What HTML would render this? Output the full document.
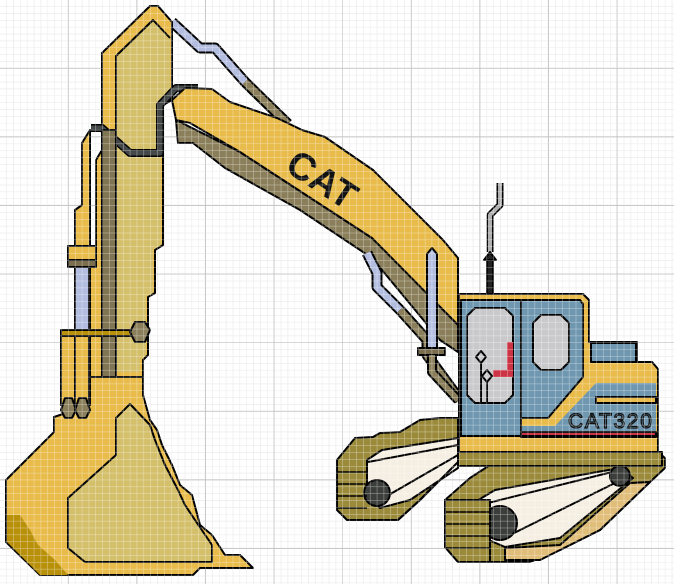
<!DOCTYPE html>
<html><head><meta charset="utf-8"><style>html,body{margin:0;padding:0;background:#fff}svg{display:block}</style></head>
<body>
<svg width="674" height="584" viewBox="0 0 674 584" xmlns="http://www.w3.org/2000/svg">
<defs>
<pattern id="fine" width="6.86" height="6.86" patternUnits="userSpaceOnUse">
<path d="M6.86 0V6.86M0 6.86H6.86" stroke="#d6d6d6" stroke-width="1" fill="none"/></pattern>
<pattern id="major" width="68.6" height="68.6" patternUnits="userSpaceOnUse">
<path d="M68.6 0V68.6M0 68.6H68.6" stroke="#8a8a8a" stroke-width="1.2" fill="none"/></pattern>
<pattern id="wfine" width="6.86" height="6.86" patternUnits="userSpaceOnUse">
<path d="M6.86 0V6.86M0 6.86H6.86" stroke="rgba(255,255,255,0.55)" stroke-width="1" fill="none"/></pattern>
</defs>
<rect width="674" height="584" fill="#fff"/>
<rect width="674" height="584" fill="url(#fine)"/>
<rect width="674" height="584" fill="url(#major)"/>

<g stroke="#000" stroke-width="2" stroke-linejoin="round">
<!-- upper hydraulic cylinder -->
<polyline points="172,22 200,48 215,48 245,82" fill="none" stroke="#000" stroke-width="11"/>
<polyline points="172,22 200,48 215,48 245,82" fill="none" stroke="#b3bde0" stroke-width="7"/>
<polyline points="245,82 288,124" fill="none" stroke="#000" stroke-width="11"/>
<polyline points="245,82 288,124" fill="none" stroke="#8a7f5a" stroke-width="7"/>

<!-- stick outer -->
<polygon fill="#e8bb4a" points="150,6 158,6 172,22 172,100 163,105 163,245 155,250 155,293 148,297 148,355 143,360 143,380 90,380 90,130 82,143 82,205 75,210 75,246 96,246 96,160 102,150 102,53"/>
<!-- stick inner khaki -->
<polygon fill="#d4bf6a" points="153,20 170,38 170,100 161,106 161,245 153,250 153,293 146,297 146,355 140,360 140,372 116,372 116,56" stroke="none"/>
<polyline points="116,372 116,56 153,20 170,38" fill="none"/>
<!-- dark bracket -->
<polyline points="91,128 102,128 130,153 160,153 160,105 176,88 198,88" fill="none" stroke="#000" stroke-width="8"/>
<polyline points="91,128 102,128 130,153 160,153 160,105 176,88 198,88" fill="none" stroke="#454849" stroke-width="5"/>
<!-- vertical dark strip -->
<rect x="102" y="130" width="14" height="247" fill="#807552"/>

<!-- boom khaki band -->
<polygon fill="#8a7f5a" points="176,120 240,152 372,238 458,322 458,352 440,340 372,258 300,210 225,168 193,143 178,143"/>
<!-- boom yellow -->
<polygon fill="#e8bb4a" points="172,100 185,88 212,89 230,102 277,118 302,130 325,137 373,170 443,240 458,258 458,325 372,238 240,152 190,123 176,120"/>

<!-- lower cylinder -->
<polyline points="367,253 377,273 377,287 400,310" fill="none" stroke="#000" stroke-width="11"/>
<polyline points="367,253 377,273 377,287 400,310" fill="none" stroke="#b3bde0" stroke-width="7"/>
<polyline points="400,310 427,340 427,355 460,400" fill="none" stroke="#000" stroke-width="11"/>
<polyline points="400,310 427,340 427,355 460,400" fill="none" stroke="#8a7f5a" stroke-width="7"/>
<!-- vertical rod -->
<polygon fill="#b3bde0" points="427,254 432,248 437,254 437,348 427,348"/>
<rect x="418" y="348" width="27" height="7" fill="#7a6e4e"/>
<polyline points="432,355 432,372 458,400" fill="none" stroke="#000" stroke-width="10"/>
<polyline points="432,355 432,372 458,400" fill="none" stroke="#8a7f5a" stroke-width="6"/>

<!-- left cylinder -->
<rect x="68" y="246" width="28" height="21" fill="#e8bb4a"/>
<rect x="68" y="260" width="28" height="7" fill="#7a6e4e"/>
<rect x="75" y="267" width="14" height="63" fill="#b3bde0"/>
<!-- bucket -->
<polygon fill="#e8bb4a" points="90,377 143,377 143,395 150,420 157,430 162,445 172,465 180,485 192,495 200,525 212,535 225,555 240,555 253,568 200,568 193,575 40,575 6,542 6,480 54,432 54,417 90,405"/>
<polygon fill="#b8900a" stroke="none" points="7,515 20,515 30,530 38,545 55,560 68,575 40,575 7,542"/>
<polygon fill="#d4bf6a" points="130,404 150,425 155,440 165,465 178,490 185,505 195,520 212,545 212,562 85,562 68,548 68,498 116,455 116,418"/>
<!-- rods down -->
<rect x="61" y="335" width="14" height="70" fill="#e8bb4a"/>
<rect x="75" y="335" width="14" height="70" fill="#e8bb4a"/>
<rect x="61" y="330" width="70" height="6" fill="#b8900a"/>
<polygon fill="#8a7f5a" points="135,322 145,322 150,330 145,342 135,342 130,332"/>
<polygon fill="#8a7f5a" points="65,398 72,398 76,410 72,418 65,418 61,410"/>
<polygon fill="#8a7f5a" points="79,398 86,398 90,410 86,418 79,418 75,410"/>
</g>

<!-- CAT logo -->
<g transform="translate(290,160) rotate(33)">
<text x="0" y="12" font-family="Liberation Sans, sans-serif" font-weight="bold" font-size="38" fill="#111">CAT</text>
</g>

<g stroke="#000" stroke-width="2" stroke-linejoin="round">
<!-- exhaust -->
<polyline points="500,183 500,205 490,215 490,252" fill="none" stroke="#000" stroke-width="7"/>
<polyline points="500,183 500,205 490,215 490,252" fill="none" stroke="#b0b0b0" stroke-width="4"/>
<polygon points="484,260 490,252 496,260" fill="#222"/>
<rect x="487" y="260" width="6" height="34" fill="#222"/>

<!-- back track -->
<polygon fill="#9a8a3a" points="337,460 355,438 373,437 380,433 400,432 420,420 440,418 458,418 458,460 420,500 398,520 347,520 337,510"/>
<polygon fill="#f5efe3" points="367,460 382,450 458,438 458,468 410,500 380,508 367,495"/>
<line x1="380" y1="500" x2="458" y2="455"/>
<line x1="368" y1="462" x2="458" y2="445"/>
<circle cx="377" cy="493" r="13" fill="#3b3e3b"/>
<polyline points="398,520 420,500 458,462" fill="none"/>
<!-- front track -->
<polygon fill="#9a8a3a" points="445,500 470,478 490,465 510,460 530,462 560,455 600,453 658,452 665,458 665,468 650,482 600,530 560,550 530,562 503,562 458,562 445,547"/>
<polygon fill="#e0bd78" points="560,545 630,483 650,482 600,530 540,560 505,560 505,548"/>
<polygon fill="#f5efe3" points="470,505 495,490 620,468 633,478 560,538 505,547 470,532"/>
<line x1="480" y1="505" x2="620" y2="470"/>
<line x1="500" y1="540" x2="625" y2="478"/>
<circle cx="500" cy="523" r="17" fill="#3b3e3b"/>
<circle cx="620" cy="476" r="10" fill="#3b3e3b"/>
<polygon fill="#9a8a3a" points="445,500 490,500 490,562 458,562 445,547"/>
<g stroke-width="1.5">
<line x1="445" y1="512" x2="490" y2="512"/><line x1="445" y1="524" x2="490" y2="524"/><line x1="445" y1="536" x2="490" y2="536"/><line x1="445" y1="548" x2="490" y2="548"/>
<line x1="337" y1="472" x2="367" y2="472"/><line x1="337" y1="484" x2="367" y2="484"/><line x1="337" y1="496" x2="367" y2="496"/><line x1="337" y1="508" x2="367" y2="508"/>
</g>
<!-- under-cab band -->
<rect x="458" y="452" width="204" height="14" fill="#9a8a3a"/>

<!-- cab -->
<polygon fill="#e8bb4a" points="459,294 583,294 589,300 589,342 637,342 637,362 652,362 658,369 658,452 459,452"/>
<polygon fill="#6f97b0" points="461,300 580,300 583,304 583,377 548,418 521,418 521,436 461,436"/>
<rect x="591" y="343" width="45" height="19" fill="#6f97b0"/>
<polygon fill="#6f97b0" stroke="none" points="596,383 656,383 656,436 521,436 521,426 555,426"/>
<rect x="596" y="397" width="60" height="6" fill="#e8bb4a"/>
<rect x="521" y="432" width="135" height="5" fill="#cc3344"/>
<line x1="521" y1="300" x2="521" y2="436"/>
<line x1="459" y1="436" x2="658" y2="436"/>
<polygon fill="#c9c9cc" points="475,308 505,308 513,316 513,395 505,403 475,403 467,395 467,316"/>
<polygon fill="#c9c9cc" points="541,315 561,315 569,323 569,362 561,370 541,370 533,362 533,323"/>
<polygon fill="#cc3344" stroke="none" points="507,342 513,342 513,377 493,377 493,370 507,370"/>
<polygon fill="#c9c9cc" points="481,351 486,357 481,363 476,357"/>
<polygon fill="#c9c9cc" points="487,370 492,376 487,382 482,376"/>
<line x1="481" y1="363" x2="481" y2="403"/><line x1="487" y1="382" x2="487" y2="403"/>
</g>
<text x="568" y="428" font-family="Liberation Sans, sans-serif" font-size="21" fill="none" stroke="#111" stroke-width="1.3" textLength="84" lengthAdjust="spacing">CAT320</text>

<rect width="674" height="584" fill="url(#wfine)"/>
</svg>
</body></html>
